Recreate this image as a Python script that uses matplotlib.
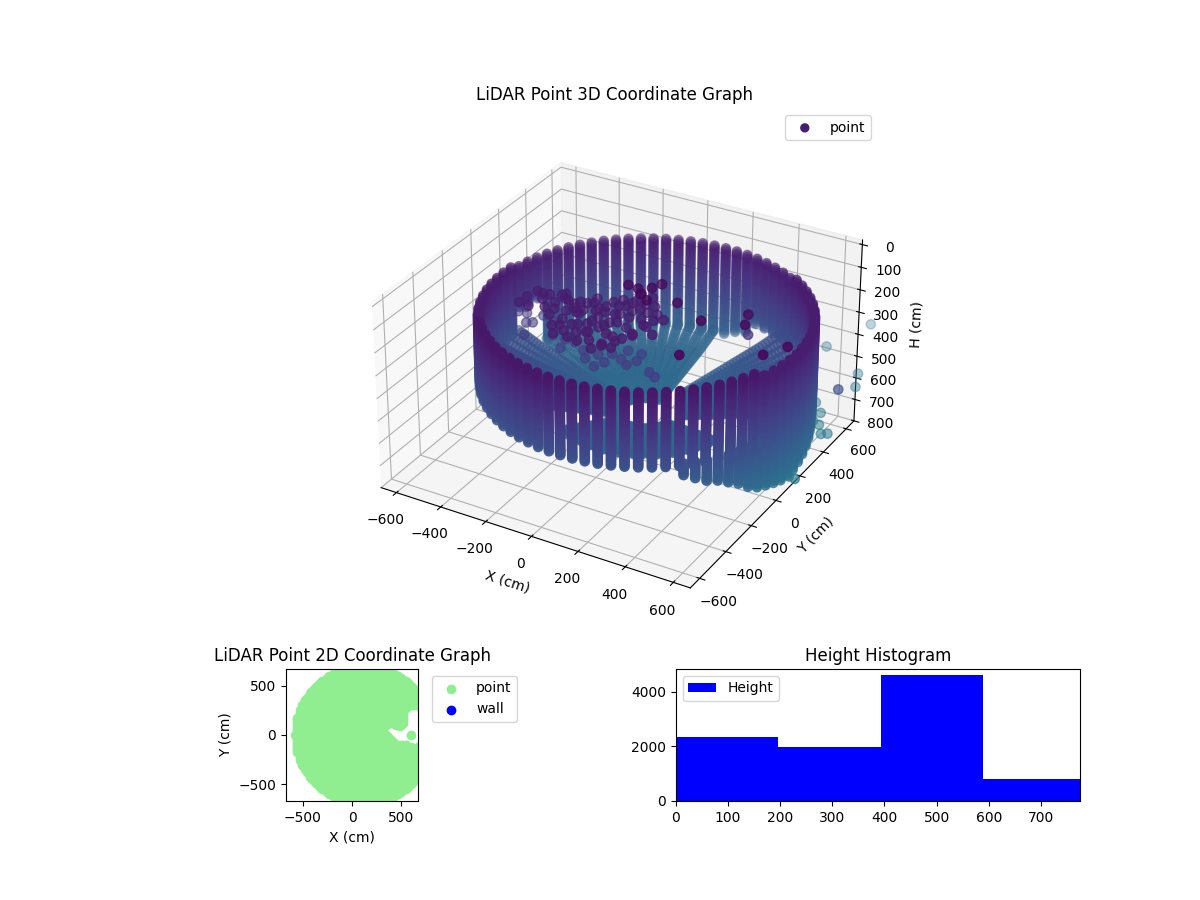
import numpy as np
import matplotlib
matplotlib.use("Agg")
import matplotlib.pyplot as plt
from matplotlib.path import Path

# ---- data ----
centre_x = 105
wall_radius = 630
wall_angles = [0,4.5,9,13.5,18,22.5,27,31.5,36,40.5,45,49.5,54,58.5,63,67.5,72,76.5,81,85.5,
               90,94.5,99,103.5,108,112.5,117,121.5,126,130.5,135,139.5,144,148.5,153,157.5,162,166.5,171,175.5,
               180,184.5,189,193.5,198,202.5,207,211.5,216,220.5,225,229.5,234,238.5,243,247.5,252,256.5,261,265.5,
               270,274.5,279,283.5,288,292.5,297,301.5,306,310.5,315,319.5,324,328.5,333,337.5,342,346.5,351,355.5]
wall_top = [133,133,133,133,133,133,133,133,133,133,133,133,133,149,149,149,149,149,149,149,
            149,149,149,149,149,149,149,149,149,149,149,149,149,149,149,149,149,149,149,133,
            133,133,133,133,133,133,133,133,133,109,109,109,109,109,109,109,109,109,109,109,
            109,109,109,109,109,109,109,109,109,109,109,109,109,109,109,109,133,133,133,133]
wall_bottom = [428,428,428,428,428,428,428,420,410,400,400,400,400,450,450,450,450,450,500,520,
               540,540,540,540,540,540,540,540,540,540,540,540,540,540,540,540,340,340,340,440,
               440,440,428,428,428,428,428,428,428,428,428,428,428,428,428,428,428,428,428,428,
               428,428,428,428,428,428,428,428,428,428,428,428,428,428,428,428,428,428,428,428]
wall_levels = [101,109,117,125,133,141,149,157,165,173,181,189,197,205,213,221,229,237,245,253,261,269,277,285,293,301,309,317,
               325,333,341,349,357,365,373,381,389,397,405,412,420,428,436,444,452,460,468,476,484,492,500,508,516,524,532,540]

floor_radii   = [640,626,612,598,584,570,556,542,528,514,500,486,472,458,444,430,416,402,388,374,360,346,332,318,304,290,276,262,248,234,220,206,192,178,164,150,136,122]
floor_heights = [540,542,544,546,548,550,552,554,556,558,560,561,562,563,564,565,566,567,568,569,570,571,572,573,574,575,576,577,578,579,580,581,582,583,584,585,586,587]
sector_start = [0,   94, 172, 195, 240]
sector_end   = [63, 160, 195, 240, 345]
sector_outer = [615,640, 600, 560, 380]
sector_inner = [140,120, 120, 120, 120]
sector_drop  = [-170, 0, -150, -220, -60]

skirt_angles  = [-48,-44,-40,-36,-32,-28,-24,-20,-16,-12,-8,-4,0,4,8,12,16,20,24,28]
skirt_bottoms = [470,490,510,520,540,560,590,610,620,630,640,640,640,630,620,610,600,580,560,540]
skirt_levels  = [420,430,440,450,460,470,480,490,500,510,520,530,540,550,560,570,580,590,600,610,620,630,640]

clutter_x = [32,109,120,138,150,78,
             -305,-236,-229,-147,-105,-38,-14,56,51,-30,-107,-145,113,114,115,101,58,28,-42,-90,-112,-198,-139,-88,-40,20,90,
             -196,-122,-120,-62,-45,13,15,31,76,75,72,28,27,10,-6,-8,-53,-125,144,128,147,163,83,66,127,
             -345,-332,-278,-227,-347,-302,-285,-210,-159,-99,-61,-107,-159,-206,-245,-6,-25,-37,-70,-149,18,74,27,152,162,193,211,150,116,88,-12,
             -466,-400,-379,-357,-372,-312,-261,-202,-159,-185,-101,-36,7,47,104,-64,-5,14,95,114,196,231,57,-473,-437,
             241,382,536,435,745,445,510,695]
clutter_y = [-8,-45,15,59,-78,-15,
             -69,-44,-107,-57,-4,4,36,-22,-124,-128,-106,-110,-5,49,-57,-143,-220,-292,-266,-277,-315,-200,-204,-222,-188,-169,-227,
             -68,-132,-53,-89,-40,-75,2,53,45,6,-71,-64,-141,-192,-241,-318,-311,-247,-173,-223,-96,-46,-293,-343,-301,
             -120,-65,-65,-29,-174,-181,-108,-63,-81,-38,-66,-136,-142,-152,-156,-12,-79,-163,-209,-264,104,105,34,-1,-101,-25,-142,-184,-254,-305,-245,
             63,-43,-29,-128,38,18,-76,-80,-81,-145,-117,-117,-87,-36,-34,-166,-202,-158,-132,-88,-137,-159,-105,19,23,
             -7,-83,-30,-343,-97,174,45,-192]
clutter_h = [30,30,30,30,30,30,
             130,130,130,130,130,130,130,130,130,130,130,130,130,130,130,130,130,130,130,130,130,130,130,130,130,130,130,
             130,130,130,130,130,130,130,130,130,130,130,130,130,130,130,130,130,130,130,130,130,130,130,130,130,
             130,130,130,130,130,130,130,130,130,130,130,130,130,130,130,130,130,130,130,130,130,130,130,130,130,130,130,130,130,130,130,
             300,300,300,300,300,300,300,300,300,300,300,300,300,300,300,300,300,300,300,300,300,300,300,300,300,
             50,50,50,50,50,220,50,50]

stray_x = [519,430,613,643,776,547,560,599,600,633,623,670,691,703,730,536]
stray_y = [1120,898,812,728,283,573,507,511,443,428,367,370,385,35,31,490]
stray_h = [620,640,670,680,420,700,700,700,700,700,700,700,700,700,700,700]

disc_centre_x = 120
disc_radius = 700
grid_x = [-580,-555,-530,-505,-480,-455,-430,-405,-380,-355,-330,-305,-280,-255,-230,-205,-180,-155,-130,-105,-80,-55,-30,-5,20,45,70,95,120,145,170,195,220,245,270,295,320,345,370,395,420,445,470,495,520,545,570,595,620,645,670,695,720]
grid_y = [-700,-675,-650,-625,-600,-575,-550,-525,-500,-475,-450,-425,-400,-375,-350,-325,-300,-275,-250,-225,-200,-175,-150,-125,-100,-75,-50,-25,0,25,50,75,100,125,150,175,200,225,250,275,300,325,350,375,400,425,450,475,500,525,550,575,600,625,650,675,700]
notch_x = [240,420,445,490,530,520,530,640,720,720,627,575,490,414,340]
notch_y = [72,118,95,90,105,130,270,295,280,-110,-135,-105,-90,-70,30]
blob_x = [490,600]
blob_y = [93,-5]

hist_edges = [0,196,392.5,589,785]
hist_counts = [2330,1970,4600,800]
limit = 670

# ---- assemble the point cloud ----
xs, ys, hs = [], [], []
for a, t0, b in zip(wall_angles, wall_top, wall_bottom):
    for h in wall_levels:
        if t0 <= h <= b:
            t = np.radians(a)
            xs.append(centre_x + wall_radius*np.cos(t)); ys.append(wall_radius*np.sin(t)); hs.append(h)
for a in wall_angles:
    for s0, s1, ro, ri, sh in zip(sector_start, sector_end, sector_outer, sector_inner, sector_drop):
        if s0 <= a < s1:
            for r, h in zip(floor_radii, floor_heights):
                if ri <= r <= ro:
                    t = np.radians(a)
                    xs.append(centre_x + r*np.cos(t)); ys.append(r*np.sin(t)); hs.append(h + sh*r/640)
for a, b in zip(skirt_angles, skirt_bottoms):
    for h in skirt_levels:
        if h <= b:
            t = np.radians(a)
            xs.append(centre_x + wall_radius*np.cos(t)); ys.append(wall_radius*np.sin(t)); hs.append(h)
xs += clutter_x + stray_x
ys += clutter_y + stray_y
hs += clutter_h + stray_h

# ---- 2D disc ----
gx, gy = np.meshgrid(grid_x, grid_y)
gx = gx.ravel(); gy = gy.ravel()
inside = (gx-disc_centre_x)**2 + gy**2 <= disc_radius**2
keep = inside & ~Path(np.column_stack([notch_x, notch_y])).contains_points(np.column_stack([gx, gy]))
dx = np.concatenate([gx[keep], blob_x])
dy = np.concatenate([gy[keep], blob_y])

fig = plt.figure(figsize=(12, 9), dpi=100)
ax = fig.add_axes([0.125, 0.296, 0.775, 0.584], projection='3d')
ax.set_box_aspect((1, 1, 0.6), zoom=1.0)
ax.scatter(xs, ys, hs, c=hs, cmap='viridis', vmin=0, vmax=1700, s=45, label='point')
ax.set_xlim(-limit, limit); ax.set_ylim(-limit, limit); ax.set_zlim(800, -20)
ax.set_xlabel('X (cm)'); ax.set_ylabel('Y (cm)'); ax.set_zlabel('H (cm)')
ax.set_title('LiDAR Point 3D Coordinate Graph')
ax.legend(loc='upper right', markerscale=0.85)

ax2 = fig.add_axes([0.125, 0.11, 0.3367, 0.1467])
ax2.scatter(dx, dy, color='lightgreen', label='point')
ax2.scatter([], [], color='blue', label='wall')
ax2.set_xlim(-limit, limit); ax2.set_ylim(-limit, limit); ax2.set_aspect('equal')
ax2.set_xlabel('X (cm)'); ax2.set_ylabel('Y (cm)')
ax2.set_title('LiDAR Point 2D Coordinate Graph')
ax2.legend(loc='upper left', bbox_to_anchor=(1.05, 1))

ax3 = fig.add_axes([0.5633, 0.11, 0.3367, 0.1467])
ax3.bar(hist_edges[:-1], hist_counts, width=np.diff(hist_edges), align='edge', color='blue', label='Height')
ax3.set_xlim(0, 775)
ax3.set_ylim(0, 4830)
ax3.set_title('Height Histogram')
ax3.legend(loc='upper left')

fig.savefig('out.png', dpi=100)
